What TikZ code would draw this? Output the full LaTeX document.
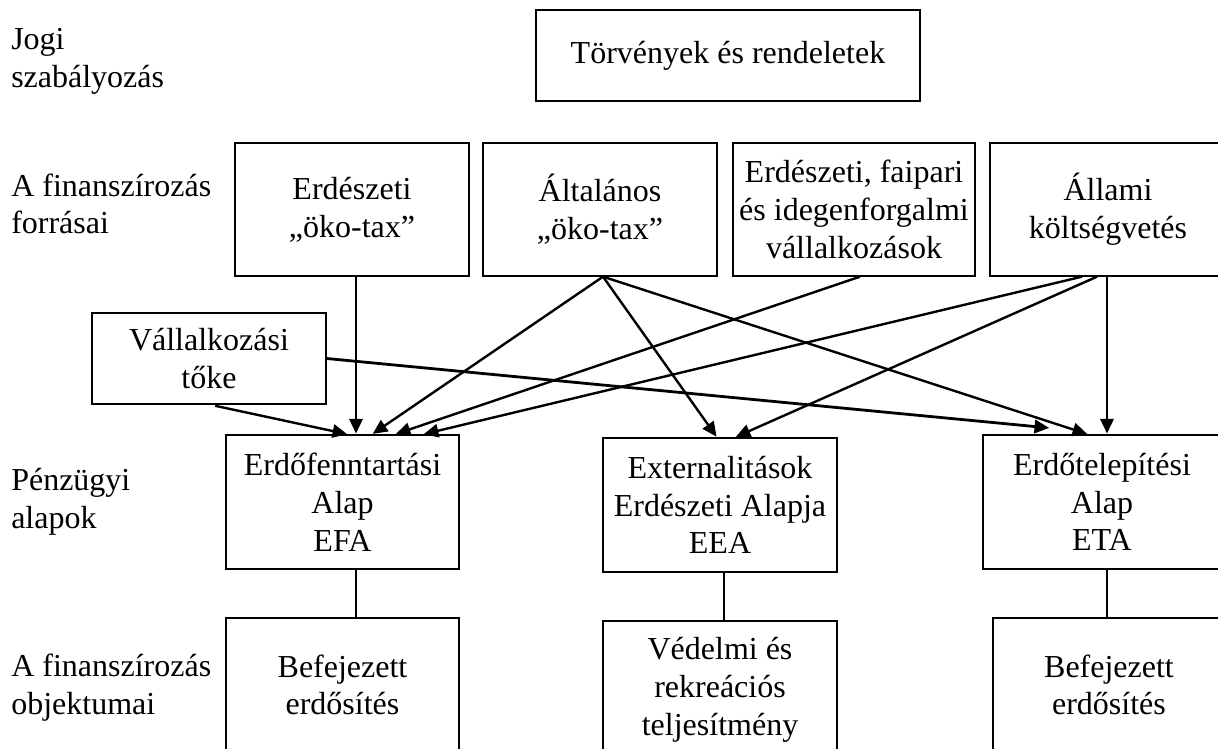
\documentclass[tikz,border=0pt]{standalone}
\usepackage{fontspec}
\setmainfont{Liberation Serif}
\usetikzlibrary{arrows.meta}
\begin{document}
\begin{tikzpicture}[x=0.75pt,y=-0.75pt,
  txt/.style={font=\fontsize{24}{28.3}\selectfont},
  box/.style={txt, draw, line width=1pt, inner sep=0pt, align=center},
  lbl/.style={txt, anchor=west, align=left, inner sep=0pt},
  arr/.style={line width=1.8pt, -{Triangle[length=11pt,width=10pt]}, shorten >=0.6pt},
  link/.style={line width=0.9pt}]
\useasboundingbox (0,0) rectangle (1218,749);
\fill[white] (0,0) rectangle (1218,749);

% left labels
\node[lbl] (L1) at (11,61) {Jogi\\szabályozás};
\node[lbl] (L2) at (11,204) {A finanszírozás\\forrásai};
\node[lbl] (L3) at (11,502) {Pénzügyi\\alapok};
\node[lbl] (L4) at (11,688) {A finanszírozás\\objektumai};

% boxes
\node[box, minimum width=288pt, minimum height=68.25pt] (T) at (728,55.5) {Törvények és rendeletek};
\node[box, minimum width=175.5pt, minimum height=99.75pt] (S1) at (352,209.5) {Erdészeti\\„öko-tax”};
\node[box, minimum width=175.5pt, minimum height=99.75pt] (S2) at (600,209.5) {Általános\\„öko-tax”};
\node[box, minimum width=181.5pt, minimum height=99.75pt] (S3) at (854,209.5) {Erdészeti, faipari\\és idegenforgalmi\\vállalkozások};
\node[box, minimum width=177pt, minimum height=99.75pt] (S4) at (1108,209.5) {Állami\\költségvetés};
\node[box, minimum width=175.5pt, minimum height=68.25pt] (V) at (209,358.5) {Vállalkozási\\tőke};
\node[box, minimum width=174.75pt, minimum height=100.5pt] (F1) at (342.5,502) {Erdőfenntartási\\Alap\\EFA};
\node[box, minimum width=175.5pt, minimum height=100.5pt] (F2) at (720,505) {Externalitások\\Erdészeti Alapja\\EEA};
\node[box, minimum width=178.5pt, minimum height=100.5pt] (F3) at (1102,502) {Erdőtelepítési\\Alap\\ETA};
\node[box, minimum width=174.75pt, minimum height=100.5pt] (O1) at (342.5,685) {Befejezett\\erdősítés};
\node[box, minimum width=175.5pt, minimum height=103.5pt] (O2) at (720,690) {Védelmi és\\rekreációs\\teljesítmény};
\node[box, minimum width=174pt, minimum height=100.5pt] (O3) at (1109,685) {Befejezett\\erdősítés};

% helper x positions
\coordinate (c210) at (210,0);
\coordinate (c348) at (348,0);
\coordinate (c356) at (356,0);
\coordinate (c372) at (372,0);
\coordinate (c395) at (395,0);
\coordinate (c423) at (423,0);
\coordinate (c603) at (603,0);
\coordinate (c717) at (717,0);
\coordinate (c724) at (724,0);
\coordinate (c735) at (735,0);
\coordinate (c860) at (860,0);
\coordinate (c1082) at (1082,0);
\coordinate (c1088) at (1088,0);
\coordinate (c1097) at (1097,0);
\coordinate (c1107) at (1107,0);
\coordinate (vt) at (1050,428);

% arrows
\draw[arr] (S1.south -| c356) -- (F1.north -| c356);
\draw[arr] (S2.south -| c603) -- (F1.north -| c372);
\draw[arr] (S2.south -| c603) -- (F2.north -| c717);
\draw[arr] (S2.south -| c603) -- (F3.north -| c1088);
\draw[arr] (S3.south -| c860) -- (F1.north -| c395);
\draw[arr] (S4.south -| c1082) -- (F1.north -| c423);
\draw[arr] (S4.south -| c1097) -- (F2.north -| c735);
\draw[arr] (S4.south -| c1107) -- (F3.north -| c1107);
\draw[arr, shorten <=4pt] (V.south -| c210) -- (F1.north -| c348);
\draw[arr, line width=2.1pt] (V.east) -- (vt);

% links
\draw[link] (F1.south -| c356) -- (O1.north -| c356);
\draw[link] (F2.south -| c724) -- (O2.north -| c724);
\draw[link] (F3.south -| c1107) -- (O3.north -| c1107);
\end{tikzpicture}
\end{document}
